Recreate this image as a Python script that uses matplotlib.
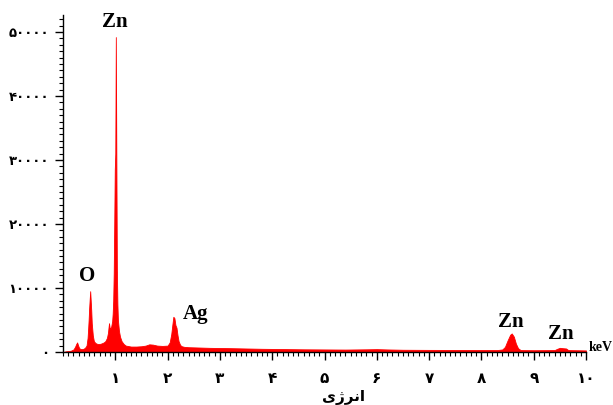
import matplotlib
matplotlib.use("Agg")
import matplotlib.pyplot as plt
from matplotlib.ticker import MultipleLocator, FixedLocator

# ---- data ----
energy = [0.00, 0.05, 0.10, 0.15, 0.20, 0.23, 0.25, 0.27, 0.29, 0.31, 0.34, 0.38, 0.42,
          0.45, 0.47, 0.48, 0.49, 0.50, 0.51, 0.52, 0.53, 0.54, 0.55, 0.57, 0.59, 0.62,
          0.66, 0.70, 0.74, 0.78, 0.81, 0.84, 0.86, 0.87, 0.88, 0.89, 0.90, 0.92, 0.94,
          0.95, 0.96, 0.97, 0.98, 0.99, 1.00, 1.01, 1.02, 1.03, 1.04, 1.05, 1.07, 1.09,
          1.12, 1.16, 1.20, 1.30, 1.40, 1.50, 1.58, 1.65, 1.72, 1.80, 1.90, 2.00, 2.04,
          2.07, 2.09, 2.11, 2.13, 2.15, 2.17, 2.19, 2.21, 2.24, 2.27, 2.32, 2.40, 2.60,
          2.80, 3.00, 3.20, 3.50, 3.80, 4.00, 4.30, 4.60, 5.00, 5.40, 5.80, 6.00, 6.20,
          6.50, 7.00, 7.50, 8.00, 8.30, 8.40, 8.45, 8.50, 8.55, 8.58, 8.62, 8.66, 8.70,
          8.75, 9.00, 9.40, 9.45, 9.50, 9.55, 9.62, 9.66, 10.00]
counts = [0, 100, 150, 200, 400, 800, 1200, 1500, 1000, 600, 450, 450, 650,
          1000, 2200, 3500, 5000, 6800, 8200, 9500, 8000, 6500, 4500, 2600, 1700, 1400,
          1250, 1250, 1350, 1500, 1700, 2200, 3000, 3800, 4500, 3900, 3600, 3900, 4800,
          6000, 8000, 12300, 20000, 28500, 31000, 49200, 30500, 13000, 7500, 5000, 3300, 2400,
          1700, 1250, 1000, 850, 850, 900, 1000, 1200, 1150, 1000, 950, 1000, 1500,
          2800, 4200, 5500, 5300, 4200, 3800, 2600, 1700, 1100, 900, 800, 750, 700,
          650, 620, 600, 550, 500, 480, 450, 420, 400, 380, 420, 450, 400,
          350, 330, 320, 300, 300, 400, 800, 1800, 2700, 2900, 2400, 1300, 600,
          300, 280, 300, 500, 650, 600, 550, 300, 250]

peak_names = ["Zn", "O", "Ag", "Zn", "Zn"]
peak_energy = [1.01, 0.52, 2.11, 8.58, 9.50]
peak_height = [49200, 9500, 5500, 2900, 650]

x_major = [1, 2, 3, 4, 5, 6, 7, 8, 9, 10]
y_major = [0, 10000, 20000, 30000, 40000, 50000]
persian_digits = str.maketrans("0123456789", "\u06f0\u06f1\u06f2\u06f3\u06f4\u06f5\u06f6\u06f7\u06f8\u06f9")
x_labels = [str(v).translate(persian_digits) for v in x_major]
y_labels = [str(v).translate(persian_digits) for v in y_major]
# "انرژی" in shaped presentation forms, visual order
x_title = "\ufbfc\ufb8a\ufeae\ufee7\ufe8d"
unit_label = "keV"

# ---- figure ----
W, H = 613, 405
fig = plt.figure(figsize=(W / 100, H / 100), dpi=100)
ax = fig.add_axes([63 / W, 1 - 352 / H, 523 / W, 337 / H])

ax.fill_between(energy, counts, 0, color="#ff0000", linewidth=0.6, edgecolor="#ff0000")

ax.set_xlim(0, 10)
ax.set_ylim(0, 52650)

for s in ["top", "right"]:
    ax.spines[s].set_visible(False)
ax.spines["left"].set_linewidth(1.0)
ax.spines["bottom"].set_linewidth(1.0)

ax.xaxis.set_major_locator(FixedLocator(x_major))
ax.set_xticklabels(x_labels)
ax.xaxis.set_minor_locator(MultipleLocator(0.1))
ax.yaxis.set_major_locator(FixedLocator(y_major))
ax.set_yticklabels(y_labels)
ax.yaxis.set_minor_locator(MultipleLocator(1000))

ax.tick_params(axis="both", which="major", direction="out", length=6, width=1.0, pad=6)
ax.tick_params(axis="both", which="minor", direction="out", length=3, width=0.8)
ax.tick_params(axis="x", which="major", pad=8, labelsize=11)
ax.tick_params(axis="y", which="major", pad=4, labelsize=9.5)
for lab in ax.get_xticklabels() + ax.get_yticklabels():
    lab.set_fontweight("bold")
    lab.set_family("DejaVu Sans")

ax.set_xlabel(x_title, fontsize=11, fontweight="bold", family="DejaVu Sans")
ax.xaxis.set_label_coords(0.537, -0.134)
ax.xaxis.label.set_va("center")

ax.annotate(unit_label, xy=(1.0, 0.0), xycoords="axes fraction", xytext=(2, 3),
            textcoords="offset points", ha="left", va="center", fontsize=10,
            fontweight="bold", family="Liberation Serif")

offsets = [(-1, 11), (-2, 11), (16, 2), (-1, 8.5), (1, 10)]
for name, e, h, off in zip(peak_names, peak_energy, peak_height, offsets):
    ax.annotate(name, xy=(e, h), xytext=off, textcoords="offset points",
                ha="center", va="center", fontsize=15, fontweight="bold",
                family="Liberation Serif", annotation_clip=False)

fig.savefig("out.png", dpi=100)
